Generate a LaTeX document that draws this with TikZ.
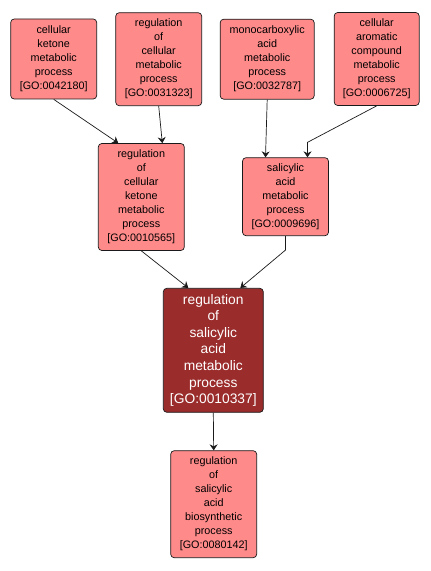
\documentclass[tikz,border=0pt]{standalone}
\usepackage{fontspec}
\setmainfont{Liberation Sans}
\usetikzlibrary{arrows.meta,positioning,calc}
\definecolor{termFill}{HTML}{FF8A8A}
\definecolor{focusFill}{HTML}{9B2C2C}
\definecolor{edgeInk}{HTML}{1A1A1A}
\tikzset{
  >={Stealth[length=6bp,width=8bp,inset=2bp]},
  term/.style={draw=edgeInk,line width=0.7bp,rounded corners=3.5bp,fill=termFill,
    align=center,inner sep=0pt,font=\fontsize{10.8bp}{14bp}\selectfont,text=black},
  focus/.style={term,fill=focusFill,text=white,font=\fontsize{13.8bp}{16.6bp}\selectfont},
  isa/.style={->,edgeInk,line width=0.7bp},
}
\begin{document}
\begin{tikzpicture}[x=1bp,y=-1bp]
\useasboundingbox (0,0) rectangle (430,571);

% ================= TOP ROW =================
\node[term,minimum width=86bp,minimum height=80bp] (ketone) at (53.7,59)
  {cellular\\ketone\\metabolic\\process\\{}[GO:0042180]};
\node[term,minimum width=86bp,minimum height=93bp] (cellmet) at (158.7,59.2)
  {regulation\\of\\cellular\\metabolic\\process\\{}[GO:0031323]};
\node[term,minimum width=94bp,minimum height=80bp] (monocarb) at (267.2,59.2)
  {monocarboxylic\\acid\\metabolic\\process\\{}[GO:0032787]};
\node[term,minimum width=85bp,minimum height=93bp] (aromatic) at (376.7,59)
  {cellular\\aromatic\\compound\\metabolic\\process\\{}[GO:0006725]};

% ================= MIDDLE ROW =================
\node[term,minimum width=86bp,minimum height=107bp] (regketone) at (141.3,197)
  {regulation\\of\\cellular\\ketone\\metabolic\\process\\{}[GO:0010565]};
\node[term,minimum width=86bp,minimum height=78bp] (salmet) at (285.5,196.7)
  {salicylic\\acid\\metabolic\\process\\{}[GO:0009696]};

% ================= FOCUS TERM AND CHILD =================
\node[focus,minimum width=100bp,minimum height=124bp] (regsalmet) at (213.3,350.3)
  {regulation\\of\\salicylic\\acid\\metabolic\\process\\{}[GO:0010337]};
\node[term,minimum width=86bp,minimum height=107bp] (regsalbio) at (213.7,504.2)
  {regulation\\of\\salicylic\\acid\\biosynthetic\\process\\{}[GO:0080142]};

% ================= EDGES =================
\draw[isa] (ketone.south) -- ([xshift=-23bp]regketone.north);
\draw[isa] (cellmet.south) -- ([xshift=21bp]regketone.north);
\draw[isa] (monocarb.south) -- ([xshift=-20bp]salmet.north);
\draw[isa] (aromatic.south) -- ([xshift=22bp,yshift=15bp]salmet.north) -- ([xshift=22bp]salmet.north);
\draw[isa] (regketone.south) -- ([xshift=-25bp]regsalmet.north);
\draw[isa] (salmet.south) -- ++(0,14) -- ([xshift=27bp]regsalmet.north);
\draw[isa] (regsalmet.south) -- (regsalbio.north);

\end{tikzpicture}
\end{document}
